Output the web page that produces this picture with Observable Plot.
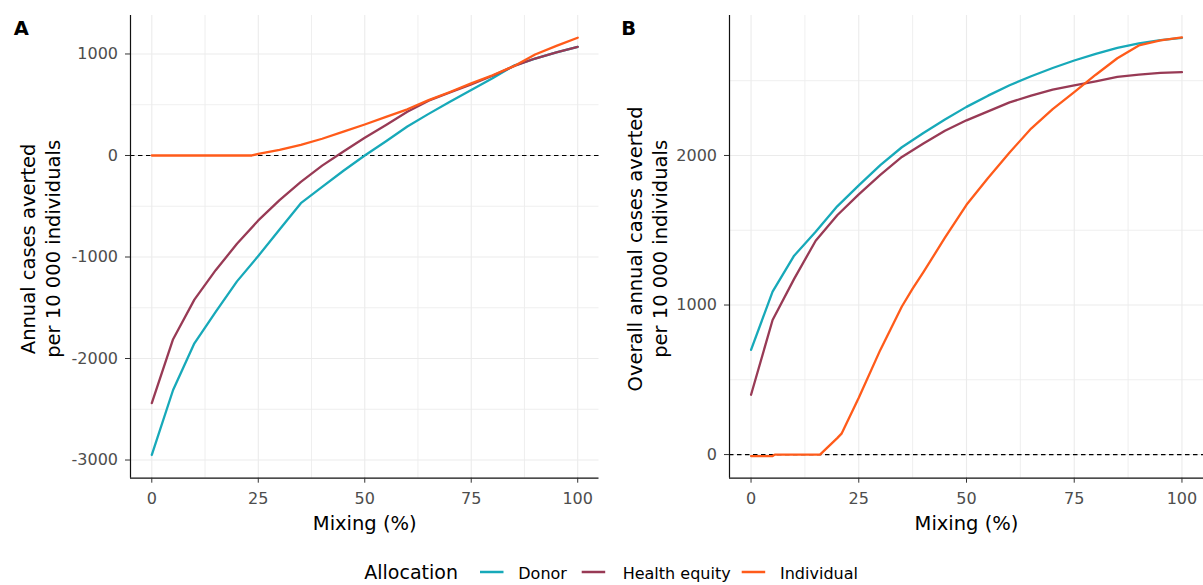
<!DOCTYPE html>
<html><head><meta charset="utf-8">
<script src="https://cdn.jsdelivr.net/npm/d3@7"></script>
<script src="https://cdn.jsdelivr.net/npm/@observablehq/plot@0.6"></script>
<style>
html,body{margin:0;padding:0;background:#fff;overflow:hidden}
#wrap{position:relative;width:1203px;height:585px;background:#fff}
#panelA,#panelB,#legend{position:absolute;top:0}
#panelA{left:0;width:601px;height:545px}
#panelB{left:601px;width:602px;height:545px}
#legend{left:0;top:545px;width:1203px;height:40px}
svg{display:block}
</style></head><body>
<div id="wrap"><div id="panelA"></div><div id="panelB"></div><div id="legend"></div></div>
<script>
const FONT = "'DejaVu Sans', Verdana, sans-serif";
const allocations = ["Donor", "Health equity", "Individual"];
const palette = ["#17A9B9", "#983A55", "#FF5B1A"];

const mixing = [0,5,10,15,20,25,30,35,40,45,50,55,60,65,70,75,80,85,90,95,100];
const xTicks = [0,25,50,75,100];
const xMinor = [12.5,37.5,62.5,87.5];

// Panel A: annual cases averted per 10 000 individuals
const donorA  = [-2950,-2310,-1850,-1540,-1240,-990,-730,-470,-310,-150,0,140,285,410,530,645,760,885,955,1015,1070];
const equityA = [-2440,-1810,-1420,-1130,-870,-640,-440,-260,-100,40,175,300,430,540,620,700,785,880,955,1015,1070];
const mixingIndividualA = [0,10,20,23.5,25,30,35,40,45,50,55,60,65,70,75,80,85,90,95,100];
const individualA = [0,0,0,0,15,55,105,165,235,305,380,455,545,625,710,790,880,995,1080,1160];
const yTicksA = [-3000,-2000,-1000,0,1000];
const yMinorA = [-2500,-1500,-500,500];

// Panel B: overall annual cases averted per 10 000 individuals
const donorB  = [700,1090,1330,1490,1660,1800,1935,2055,2150,2240,2325,2400,2470,2530,2585,2635,2680,2720,2750,2772,2787];
const equityB = [400,900,1175,1430,1600,1740,1870,1990,2080,2165,2235,2295,2355,2400,2440,2468,2495,2525,2540,2552,2557];
const mixingIndividualB = [0,5,5.5,10,16,18,20,21,25,30,35,37.5,40,45,50,55,60,65,70,75,80,85,90,95,100];
const individualB = [-10,-10,0,0,0,55,110,140,380,700,990,1110,1220,1450,1670,1850,2020,2180,2310,2423,2540,2650,2736,2770,2790];
const yTicksB = [0,1000,2000];
const yMinorB = [500,1500,2500];

function rows(xs, ys, name) { return xs.map((m, i) => ({mixing: m, value: ys[i], allocation: name})); }

const rowsA = [...rows(mixing, donorA, "Donor"), ...rows(mixing, equityA, "Health equity"), ...rows(mixingIndividualA, individualA, "Individual")];
const rowsB = [...rows(mixing, donorB, "Donor"), ...rows(mixing, equityB, "Health equity"), ...rows(mixingIndividualB, individualB, "Individual")];

function panel(o) {
  const grid = {stroke: "#EBEBEB", strokeOpacity: 1, strokeWidth: 1.1};
  const minor = {stroke: "#EDEDED", strokeOpacity: 1, strokeWidth: 0.9};
  return Plot.plot({
    width: o.width, height: 545,
    marginTop: 15, marginBottom: 67.3, marginLeft: o.ml, marginRight: o.mr,
    style: {fontFamily: FONT, fontSize: "16px", background: "#fff", overflow: "visible"},
    x: {domain: [-5, 105]},
    y: {domain: o.yDomain},
    color: {domain: allocations, range: palette},
    marks: [
      Plot.gridX(xMinor, minor),
      Plot.gridY(o.yMinor, minor),
      Plot.gridX(xTicks, grid),
      Plot.gridY(o.yTicks, grid),
      Plot.ruleY([0], {stroke: "#000", strokeWidth: 1.2, strokeDasharray: "4.5,3.5"}),
      Plot.line(o.rows, {x: "mixing", y: "value", z: "allocation", stroke: "allocation", strokeWidth: 2.3}),
      Plot.ruleX([-5], {stroke: "#111", strokeWidth: 1.2}),
      Plot.ruleY([o.yDomain[0]], {stroke: "#111", strokeWidth: 1.2}),
      Plot.axisX(xTicks, {tickSize: 5, tickPadding: 9, stroke: "#333", fill: "#4D4D4D", fontSize: 16, label: null, tickFormat: d => String(d)}),
      Plot.axisY(o.yTicks, {tickSize: 5, tickPadding: 7.5, stroke: "#333", fill: "#4D4D4D", fontSize: 16, label: null, tickFormat: d => String(d)}),
      Plot.text(["Mixing (%)"], {text: d => d, frameAnchor: "bottom", textAnchor: "middle", lineAnchor: "bottom", dy: 51.5, fontSize: 19.5, fill: "#000"}),
      Plot.text([o.yTitle], {text: d => d, frameAnchor: "left", textAnchor: "middle", lineAnchor: "middle", rotate: -90, dx: o.titleDx, dy: 2, lineHeight: 1.28, fontSize: 19.5, fill: "#000"}),
      Plot.text([o.letter], {text: d => d, frameAnchor: "top-left", textAnchor: "start", lineAnchor: "bottom", dx: o.letterDx, dy: 19.3, fontSize: 19.5, fontWeight: "bold", fill: "#000"})
    ]
  });
}

document.getElementById("panelA").appendChild(panel({
  width: 601, ml: 130, mr: 2.5, yDomain: [-3179, 1379], yTicks: yTicksA, yMinor: yMinorA, rows: rowsA,
  yTitle: "Annual cases averted\nper 10 000 individuals", titleDx: -90.6, letter: "A", letterDx: -116.7
}));
document.getElementById("panelB").appendChild(panel({
  width: 602, ml: 128, mr: 0, yDomain: [-158, 2936], yTicks: yTicksB, yMinor: yMinorB, rows: rowsB,
  yTitle: "Overall annual cases averted\nper 10 000 individuals", titleDx: -82.8, letter: "B", letterDx: -108.3
}));

// Legend
const lg = d3.select("#legend").append("svg").attr("width", 1203).attr("height", 40)
  .style("font-family", FONT);
lg.append("text").attr("x", 364.3).attr("y", 34).attr("font-size", 19).attr("fill", "#000").text("Allocation");
const keyX = [480, 581.7, 741.7];
const labelX = [518.3, 622.7, 780];
allocations.forEach((a, i) => {
  lg.append("line").attr("x1", keyX[i]).attr("x2", keyX[i] + 23.5).attr("y1", 27).attr("y2", 27)
    .attr("stroke", palette[i]).attr("stroke-width", 2.5);
  lg.append("text").attr("x", labelX[i]).attr("y", 34).attr("font-size", 16).attr("fill", "#000").text(a);
});
</script>
</body></html>
